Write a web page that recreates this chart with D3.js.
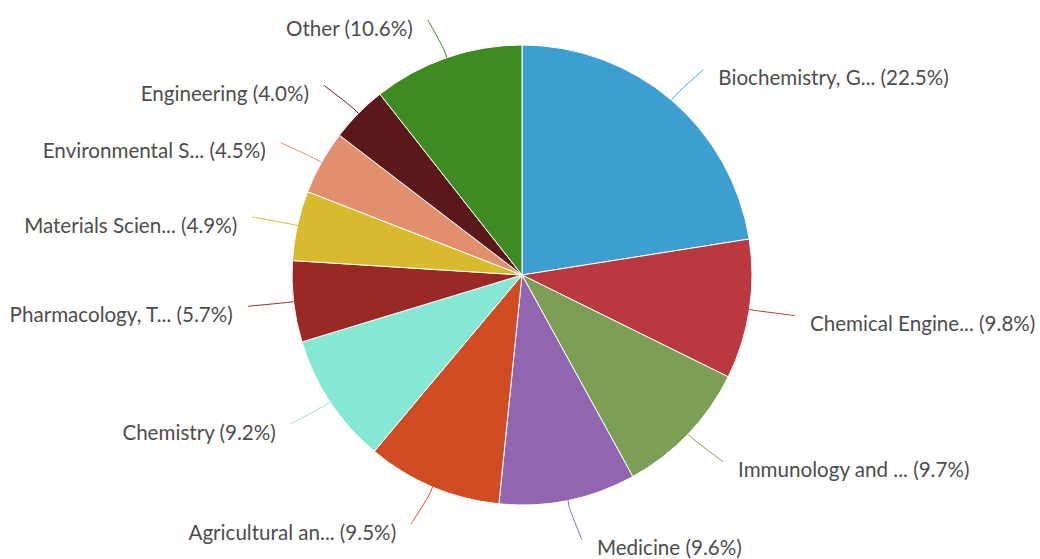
<!DOCTYPE html>
<html>
<head>
<meta charset="utf-8">
<script src="https://cdn.jsdelivr.net/npm/d3@7/dist/d3.min.js"></script>
<style>
  html, body { margin: 0; padding: 0; background: #ffffff; }
  svg { display: block; }
  .lbl { font-family: Lato, "Open Sans", sans-serif; font-size: 20.6px; fill: #4d4d4d; }
</style>
</head>
<body>
<svg id="chart" width="1040" height="559"></svg>
<script>
// Subject areas and their share of documents (%)
const categories = [
  "Biochemistry, G...",
  "Chemical Engine...",
  "Immunology and ...",
  "Medicine",
  "Agricultural an...",
  "Chemistry",
  "Pharmacology, T...",
  "Materials Scien...",
  "Environmental S...",
  "Engineering",
  "Other"
];
const shares = [22.5, 9.8, 9.7, 9.6, 9.5, 9.2, 5.7, 4.9, 4.5, 4.0, 10.6];
const colors = [
  "#3d9fcf", "#b9393f", "#7d9f55", "#9265b0", "#d04c23", "#84e8d4",
  "#9a2926", "#d8ba2f", "#e28f6e", "#5b181b", "#3e8b22"
];

const width = 1040, height = 559;
const cx = 522, cy = 275, radius = 230;
const labelRadius = 270;   // where each label's connector ends
const breakOffset = 6;     // connector bend, just outside the slice

const svg = d3.select("#chart");
const data = categories.map((c, i) => ({ name: c, value: shares[i], color: colors[i] }));

const pie = d3.pie().value(d => d.value).sort(null);
const arcs = pie(data);
const arc = d3.arc().innerRadius(0).outerRadius(radius);

const g = svg.append("g").attr("transform", `translate(${cx},${cy})`);

g.selectAll("path.slice")
  .data(arcs)
  .join("path")
  .attr("class", "slice")
  .attr("d", arc)
  .attr("fill", d => d.data.color)
  .attr("stroke", "#ffffff")
  .attr("stroke-width", 1)
  .attr("stroke-linejoin", "round");

const polar = (a, r) => [r * Math.sin(a), -r * Math.cos(a)];

arcs.forEach(d => {
  const a = (d.startAngle + d.endAngle) / 2;
  const right = Math.sin(a) >= 0;
  const [tx, ty] = polar(a, radius);
  const [bx, by] = polar(a, radius + breakOffset);
  const [lx0, ly] = polar(a, labelRadius);
  const lx = lx0 + (right ? 6 : -6);

  const p = d3.path();
  p.moveTo(lx, ly);
  p.bezierCurveTo(lx, ly, 2 * bx - tx, 2 * by - ty, bx, by);
  p.lineTo(tx, ty);
  g.append("path")
    .attr("d", p.toString())
    .attr("fill", "none")
    .attr("stroke", d.data.color)
    .attr("stroke-width", 1);

  g.append("text")
    .attr("class", "lbl")
    .attr("x", lx0 + (right ? 21 : -21))
    .attr("y", ly + 8.5)
    .attr("dy", "0.35em")
    .attr("text-anchor", right ? "start" : "end")
    .text(`${d.data.name} (${d.data.value.toFixed(1)}%)`);
});
</script>
</body>
</html>
